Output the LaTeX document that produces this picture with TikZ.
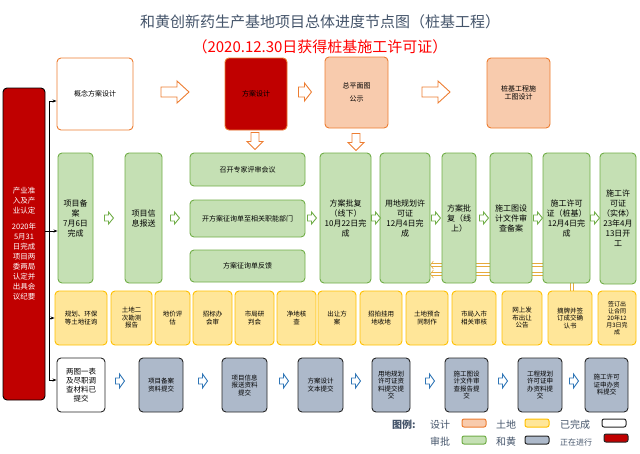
\documentclass[tikz,border=0pt]{standalone}
\usepackage{fontspec}
\setmainfont{Noto Sans CJK SC}
\usetikzlibrary{arrows.meta}
\definecolor{dred}{RGB}{192,0,0}
\definecolor{peach}{RGB}{248,203,173}
\definecolor{porange}{RGB}{237,125,49}
\definecolor{gfill}{RGB}{197,224,180}
\definecolor{gline}{RGB}{112,173,71}
\definecolor{yfill}{RGB}{255,230,153}
\definecolor{yline}{RGB}{255,192,0}
\definecolor{bfill}{RGB}{173,185,202}
\definecolor{bline}{RGB}{38,38,38}
\definecolor{tgray}{RGB}{68,84,106}
\definecolor{aline}{RGB}{46,117,182}
\definecolor{dline}{RGB}{230,170,60}
\tikzset{
 bx/.style={draw,rounded corners=4pt,line width=0.9pt,align=center,font=\fontsize{7}{8.5}\selectfont,inner sep=1pt},
 des/.style={bx,draw=porange,fill=peach},
 gr/.style={bx,draw=gline,fill=gfill},
 ye/.style={bx,draw=yline,fill=yfill,font=\fontsize{6.5}{7.5}\selectfont},
 hw/.style={bx,draw=bline,fill=bfill,font=\fontsize{6.5}{7.5}\selectfont},
 oar/.style={draw=porange,line width=0.9pt,fill=white},
 sar/.style={draw=gline,line width=0.9pt,fill=white},
 bar/.style={draw=aline,line width=0.9pt,fill=white},
 dl/.style={draw=dline,line width=0.6pt,double=white,double distance=2.5pt},
 sw/.style={draw,rounded corners=2pt,line width=1pt,minimum width=24pt,minimum height=8pt,inner sep=0pt},
 lg/.style={text=tgray,font=\fontsize{10}{11}\selectfont,anchor=west,inner sep=0pt},
}
\newcommand{\bxat}[5]{\node[#1,minimum width=#4-#2,minimum height=#5-#3] at ({(#2+#4)/2},{(#3+#5)/2})}
% outline arrow: style, centre x,y, rotation, length, body half width, head half width, head length
\newcommand{\oarr}[8]{\draw[#1,shift={(#2,#3)},rotate=#4,line join=miter]
 ({-#5/2},{-#6}) -- ({#5/2-#8},{-#6}) -- ({#5/2-#8},{-#7}) -- ({#5/2},0) -- ({#5/2-#8},{#7}) -- ({#5/2-#8},{#6}) -- ({-#5/2},{#6}) -- cycle;}
\begin{document}
\begin{tikzpicture}[x=1pt,y=-1pt]
\useasboundingbox (0,0) rectangle (640,453);
\node[text=tgray,font=\fontsize{15}{16}\selectfont] (t1) at (320,22) {和黄创新药生产基地项目总体进度节点图（桩基工程）};
\node[text=red,font=\fontsize{15}{16}\selectfont] (t2) at (320,47) {（2020.12.30日获得桩基施工许可证）};
% double lines behind boxes
\coordinate (d1) at (590,265); \coordinate (d2) at (430,265);
\coordinate (d3) at (590,274); \coordinate (d4) at (430,274);
\draw[dl,-{Straight Barb[length=3pt,width=8pt]}] (d1) -- (d2);
\draw[dl,-{Straight Barb[length=3pt,width=8pt]}] (d3) -- (d4);
\coordinate (d5) at (572,280); \coordinate (d6) at (572,293);
\draw[dl] (d5) -- (d6);
% top row
\bxat{bx,draw=porange,fill=white}{57}{58}{133}{130} (k1) {概念方案设计};
\bxat{des,fill=dred,draw=porange}{225}{58}{287}{130} (k2) {方案设计};
\bxat{des}{325}{57}{388}{128} (k3) {总平面图\\[4pt]公示};
\bxat{des}{487}{58}{550}{128} (k4) {桩基工程施\\工图设计};
\oarr{oar}{175}{92}{0}{28}{5}{11}{12}
\oarr{oar}{305}{92}{0}{13}{5}{9}{7}
\oarr{oar}{436}{92}{0}{28}{5}{11}{12}
\oarr{oar}{255}{141}{-90}{17}{4}{8}{8}
\oarr{oar}{356}{142}{-90}{17}{4}{8}{8}
% left red
\bxat{bx,draw=black,fill=dred,text=white,font=\fontsize{7.5}{10}\selectfont}{3}{88}{45}{400} (L) {产业准\\入及产\\业认定\\[6pt]2020年\\5月31\\日完成\\项目两\\委两局\\认定并\\出具会\\议纪要};
% green row
\bxat{gr,font=\fontsize{8}{10}\selectfont}{58}{153}{93}{283} (g1) {项目备\\案\\7月6日\\完成};
\bxat{gr,font=\fontsize{8}{10}\selectfont}{125}{153}{162}{283} (g2) {项目信\\息报送};
\bxat{gr}{190}{153}{305}{186} (g3) {召开专家评审会议};
\bxat{gr}{190}{200}{305}{237} (g4) {开方案征询单至相关职能部门};
\bxat{gr}{190}{250}{305}{282} (g5) {方案征询单反馈};
\bxat{gr,font=\fontsize{8}{10}\selectfont}{320}{153}{371}{283} (g6) {方案批复\\（线下）\\10月22日完\\成};
\bxat{gr,font=\fontsize{8}{10}\selectfont}{380}{153}{430}{283} (g7) {用地规划许\\可证\\12月4日完\\成};
\bxat{gr,font=\fontsize{8}{10}\selectfont}{442}{153}{476}{283} (g8) {方案批\\复（线\\上）};
\bxat{gr,font=\fontsize{8}{10}\selectfont}{490}{153}{532}{283} (g9) {施工图设\\计文件审\\查备案};
\bxat{gr,font=\fontsize{8}{10}\selectfont}{543}{153}{590}{283} (g10) {施工许可\\证（桩基）\\12月4日完\\成};
\bxat{gr,font=\fontsize{8}{10}\selectfont}{600}{153}{636}{284} (g11) {施工许\\可证\\（实体）\\23年4月\\13日开\\工};
\foreach \x in {109,175,312,376,436,484,538,595} {\oarr{sar}{\x}{218}{0}{9}{3}{6}{5}}
% yellow row
\bxat{ye}{55}{291}{107}{345} (y1) {规划、环保\\等土地征询};
\bxat{ye}{111}{291}{152}{345} (y2) {土地二\\次勘测\\报告};
\bxat{ye}{155}{291}{190}{345} (y3) {地价评\\估};
\bxat{ye}{193}{291}{232}{345} (y4) {招标办\\会审};
\bxat{ye}{235}{291}{274}{345} (y5) {市局研\\判会};
\bxat{ye}{277}{291}{316}{345} (y6) {净地核\\查};
\bxat{ye}{318}{291}{356}{345} (y7) {出让方\\案};
\bxat{ye}{360}{291}{402}{345} (y8) {招拍挂用\\地收地};
\bxat{ye}{406}{291}{448}{345} (y9) {土地预合\\同制作};
\bxat{ye}{452}{291}{496}{345} (y10) {市局入市\\相关审核};
\bxat{ye}{502}{291}{542}{345} (y11) {网上发\\布出让\\公告};
\bxat{ye}{548}{291}{592}{345} (y12) {摘牌并签\\订成交确\\认书};
\bxat{ye,font=\fontsize{6}{7}\selectfont}{598}{291}{636}{345} (y13) {签订出\\让合同\\20年12\\月3日完\\成};
% gray row
\bxat{bx,draw=bline,fill=white,font=\fontsize{7.5}{9}\selectfont}{57}{358}{105}{412} (h1) {两图一表\\及尽职调\\查材料已\\提交};
\bxat{hw}{139}{358}{183}{412} (h2) {项目备案\\资料提交};
\bxat{hw}{222}{358}{267}{412} (h3) {项目信息\\报送资料\\提交};
\bxat{hw}{298}{358}{343}{412} (h4) {方案设计\\文本提交};
\bxat{hw}{372}{358}{410}{412} (h5) {用地规划\\许可证资\\料提交提\\交};
\bxat{hw}{445}{358}{488}{412} (h6) {施工图设\\计文件审\\查报告提\\交};
\bxat{hw}{518}{358}{562}{412} (h7) {工程规划\\许可证申\\办资料提\\交};
\bxat{hw}{585}{358}{628}{412} (h8) {施工许可\\证申办资\\料提交};
\foreach \x in {120,203,284,356,430,503,574} {\oarr{bar}{\x}{381}{0}{9}{3}{7}{5}}
% left connectors
\coordinate (v0) at (49,101);
\coordinate (v1) at (49,380);
\draw[line width=0.7pt] (v0) -- (v1);
\draw[line width=0.7pt,-{Stealth[length=4pt]}] (v0) -- (k1.west|-v0);
\draw[line width=0.7pt,-{Stealth[length=4pt]}] (L.east|-0,231) -- (g1.west|-0,231);
\draw[line width=0.7pt,-{Stealth[length=4pt]}] (49,318) -- (y1.west|-0,318);
\draw[line width=0.7pt,-{Stealth[length=4pt]}] (v1) -- (h1.west|-v1);
% legend
\node[lg,font=\bfseries\fontsize{10}{11}\selectfont] (lt) at (392,425) {图例:};
\node[lg] (l1) at (430,425) {设计};
\node[sw,draw=porange,fill=peach] (s1) at (474,423) {};
\node[lg] (l2) at (496,425) {土地};
\node[sw,draw=yline,fill=yfill] (s2) at (537,423) {};
\node[lg] (l3) at (560,425) {已完成};
\node[sw,draw=bline,fill=white] (s3) at (614,423) {};
\node[lg] (l4) at (430,442) {审批};
\node[sw,draw=gline,fill=gfill] (s4) at (474,440) {};
\node[lg] (l5) at (496,442) {和黄};
\node[sw,draw=bline,fill=bfill] (s5) at (537,440) {};
\node[lg,font=\fontsize{8}{9}\selectfont] (l6) at (560,442) {正在进行};
\node[sw,draw=bline,fill=dred] (s6) at (616,438) {};
\end{tikzpicture}
\end{document}
